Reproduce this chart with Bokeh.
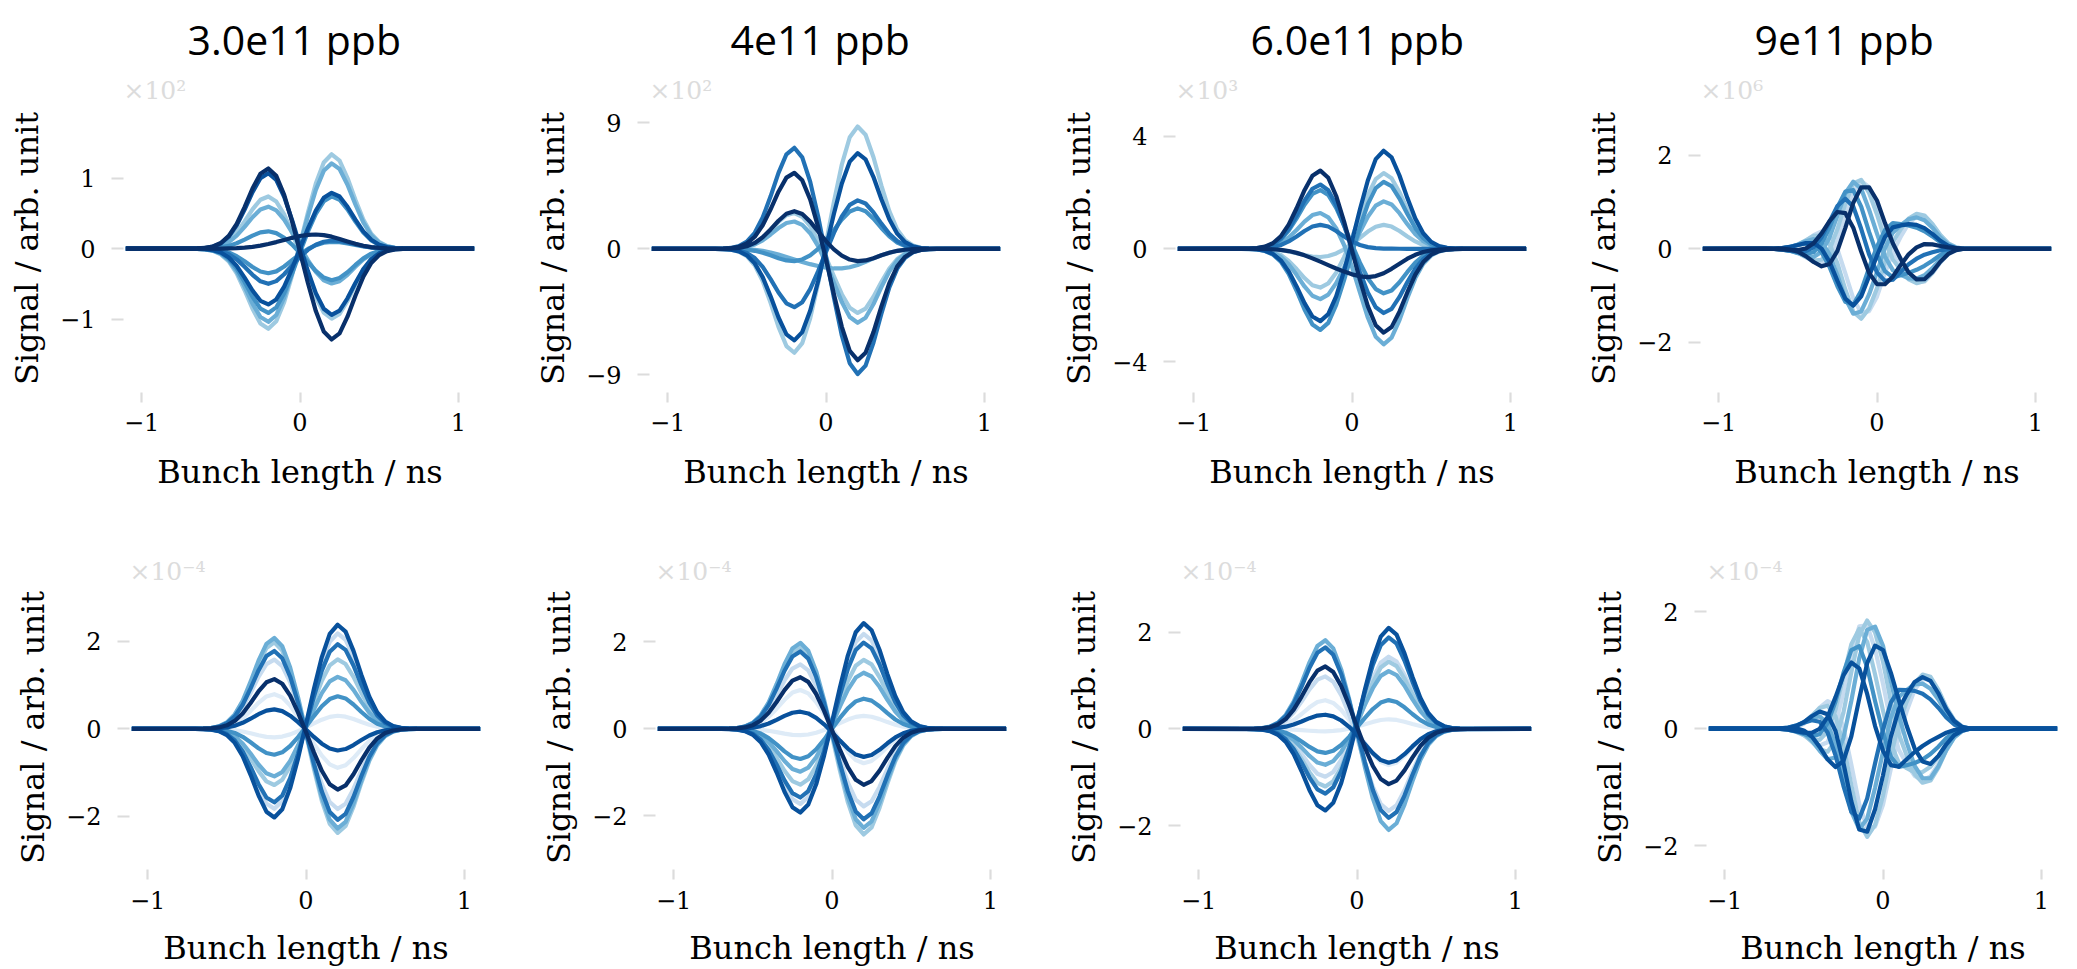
from bokeh.plotting import figure
from bokeh.models import Range1d, FixedTicker, Title, CustomJSTickFormatter
from bokeh.layouts import column, row
from bokeh.embed import file_html
from bokeh.resources import INLINE

# ---------------- shared x grid (bunch length / ns) ----------------
X = [-1.1, -0.7, -0.65, -0.6, -0.55, -0.5, -0.45, -0.4, -0.35, -0.3, -0.25, -0.2,
     -0.15, -0.1, -0.05, 0.0, 0.05, 0.1, 0.15, 0.2, 0.25, 0.3, 0.35, 0.4, 0.45,
     0.5, 0.55, 0.6, 0.65, 0.7, 1.1]

# pulse profiles (normalised to 1 at their extremum)
BUMP_LEFT = [0, 0.001, 0.003, 0.009, 0.027, 0.070, 0.157, 0.306, 0.514, 0.744, 0.929, 1.0,
             0.929, 0.744, 0.514, 0.306, 0.157, 0.070, 0.027, 0.009, 0.003, 0.001, 0, 0, 0,
             0, 0, 0, 0, 0, 0]
BUMP_RIGHT = [0, 0, 0, 0, 0, 0, 0, 0, 0, 0.001, 0.003, 0.009, 0.027, 0.070, 0.157, 0.306,
              0.514, 0.744, 0.929, 1.0, 0.929, 0.744, 0.514, 0.306, 0.157, 0.070, 0.027,
              0.009, 0.003, 0.001, 0]
BUMP_WIDE = [0, 0, 0.001, 0.001, 0.004, 0.009, 0.021, 0.044, 0.085, 0.151, 0.249, 0.381,
             0.539, 0.707, 0.857, 0.962, 1.0, 0.962, 0.857, 0.707, 0.539, 0.381, 0.249,
             0.151, 0.085, 0.044, 0.021, 0.009, 0.004, 0.001, 0]
WAVE_P = [0, 0.001, 0.001, -0.003, -0.019, -0.056, -0.120, -0.191, -0.213, -0.114, 0.148,
          0.523, 0.863, 1.000, 0.890, 0.620, 0.250, -0.050, -0.250, -0.420, -0.500, -0.480,
          -0.360, -0.200, -0.080, -0.020, 0, 0, 0, 0, 0]
WAVE_Q = [0, 0.002, 0.005, 0.013, 0.024, 0.028, 0.001, -0.090, -0.264, -0.488, -0.662,
          -0.659, -0.417, 0.0, 0.390, 0.600, 0.620, 0.500, 0.300, 0.120, 0.0, -0.060,
          -0.060, -0.040, -0.020, -0.010, 0, 0, 0, 0, 0]

# ---------------- texts ----------------
COLUMN_TITLES = ["3.0e11 ppb", "4e11 ppb", "6.0e11 ppb", "9e11 ppb"]
SCALE_TOP = ["\u00d710\u00b2", "\u00d710\u00b2", "\u00d710\u00b3", "\u00d710\u2076"]
SCALE_BOTTOM = ["\u00d710\u207b\u2074"] * 4
Y_TICK_TOP = [1, 9, 4, 2]
Y_TICK_BOTTOM = [2, 2, 2, 2]
X_TICKS = [-1, 0, 1]
X_LABEL = "Bunch length / ns"
Y_LABEL = "Signal / arb. unit"

# ---------------- curve amplitudes (head lobe, tail lobe, broad part) ----------------
A_COLORS = ['#9ecae1', '#9ecae1', '#6baed6', '#6baed6', '#4292c6', '#4292c6', '#4292c6',
            '#2171b5', '#08519c', '#08519c', '#08306b', '#08306b']
A_LEFT = [-1.15, 0.75, -1.05, 0.60, -0.92, 0.25, -0.35, -0.50, -0.80, 1.08, 1.15, 0.00]
A_RIGHT = [1.35, -1.00, 1.22, -0.50, 0.75, -0.45, 0.10, 0.12, 0.80, -0.95, -1.30, 0.05]
A_WIDE = [0, 0, 0, 0, 0, 0, 0, 0, 0, 0, 0, 0.17]

B_COLORS = ['#9ecae1', '#9ecae1', '#6baed6', '#6baed6', '#4292c6', '#2171b5', '#2171b5',
            '#08519c', '#08306b', '#08306b']
B_LEFT = [-7.5, 2.6, -0.3, 2.0, -0.9, -4.2, 7.3, -6.6, 5.5, 2.7]
B_RIGHT = [8.8, -4.6, -0.3, -5.3, 2.9, 3.5, -9.0, 6.9, -8.0, -0.9]
B_WIDE = [0, 0, -1.2, 0, 0, 0, 0, 0, 0, 0]

C_COLORS = ['#9ecae1', '#9ecae1', '#6baed6', '#6baed6', '#4292c6', '#4292c6', '#2171b5',
            '#2171b5', '#08519c', '#08306b', '#08306b']
C_LEFT = [-1.4, -0.3, -1.8, 1.3, -2.9, 2.1, 0.85, 2.3, -2.6, 2.8, -0.15]
C_RIGHT = [2.7, 0.85, 1.7, -3.4, 2.4, -1.6, 0.0, -2.3, 3.5, -3.0, -0.3]
C_WIDE = [0, 0, 0, 0, 0, 0, 0, 0, 0, 0, -0.8]

D_COLORS = ['#c6dbef', '#c6dbef', '#9ecae1', '#9ecae1', '#6baed6', '#6baed6', '#4292c6',
            '#4292c6', '#2171b5', '#08519c', '#08306b', '#08306b']
D_COS = [1.448, -1.369, 1.470, -1.494, 1.279, -1.340, 0.901, -0.900, 0.426, -1.017, -0.059, 1.311]
D_SIN = [0.072, -0.290, -0.298, 0.137, -0.784, 0.553, -1.136, 1.007, -1.281, 0.810, -1.199, 0.363]

E_COLORS = ['#deebf7', '#deebf7', '#c6dbef', '#c6dbef', '#9ecae1', '#9ecae1', '#6baed6',
            '#6baed6', '#4292c6', '#2171b5', '#2171b5', '#08519c', '#08519c', '#08306b']
E_LEFT = [0.8, -0.2, 1.6, -1.85, 2.0, -1.3, 2.1, -1.1, -0.6, 1.8, -1.7, -2.05, 0.45, 1.15]
E_RIGHT = [-0.9, 0.3, -1.85, 2.2, -2.4, 1.6, -2.3, 1.2, 0.75, -2.1, 1.95, 2.4, -0.5, -1.4]

F_COLORS = ['#deebf7', '#deebf7', '#c6dbef', '#c6dbef', '#9ecae1', '#9ecae1', '#6baed6',
            '#6baed6', '#4292c6', '#2171b5', '#2171b5', '#08519c', '#08519c', '#08306b']
F_LEFT = [0.9, -0.15, 1.5, -1.75, 1.9, -1.3, 2.0, -1.0, -0.7, 1.8, -1.6, -1.95, 0.4, 1.2]
F_RIGHT = [-0.8, 0.3, -1.8, 2.2, -2.45, 1.6, -2.3, 1.3, 0.7, -2.1, 2.0, 2.45, -0.65, -1.3]

G_COLORS = ['#deebf7', '#deebf7', '#c6dbef', '#c6dbef', '#9ecae1', '#6baed6', '#6baed6',
            '#4292c6', '#2171b5', '#2171b5', '#08519c', '#08519c', '#08306b']
G_LEFT = [0.6, -0.05, 1.1, -1.0, -1.2, 1.85, -0.75, -0.5, 1.7, -1.35, -1.7, 0.3, 1.3]
G_RIGHT = [-0.75, 0.2, -1.7, 1.5, 1.4, -2.1, 1.2, 0.6, -1.85, 1.9, 2.1, -0.7, -1.15]

H_COLORS = ['#c6dbef', '#c6dbef', '#9ecae1', '#9ecae1', '#9ecae1', '#6baed6', '#6baed6',
            '#4292c6', '#2171b5', '#08519c', '#08519c', '#08519c']
H_COS = [1.767, -1.700, 1.850, 1.486, -1.850, 1.691, -1.542, 1.056, -1.195, 0.595, 1.120, -1.763]
H_SIN = [-0.547, -0.416, 0.000, -1.016, 0.000, 0.617, 0.928, -1.202, 1.210, -1.245, 1.086, 0.490]


def bump_curves(lefts, rights, wides=None):
    if wides is None:
        wides = [0] * len(lefts)
    out = []
    for l, r, w in zip(lefts, rights, wides):
        out.append([l * a + r * b + w * c for a, b, c in zip(BUMP_LEFT, BUMP_RIGHT, BUMP_WIDE)])
    return out


def wave_curves(coss, sins):
    return [[c * p + s * q for p, q in zip(WAVE_P, WAVE_Q)] for c, s in zip(coss, sins)]


TOP_CURVES = [
    (A_COLORS, bump_curves(A_LEFT, A_RIGHT, A_WIDE)),
    (B_COLORS, bump_curves(B_LEFT, B_RIGHT, B_WIDE)),
    (C_COLORS, bump_curves(C_LEFT, C_RIGHT, C_WIDE)),
    (D_COLORS, wave_curves(D_COS, D_SIN)),
]
BOTTOM_CURVES = [
    (E_COLORS, bump_curves(E_LEFT, E_RIGHT)),
    (F_COLORS, bump_curves(F_LEFT, F_RIGHT)),
    (G_COLORS, bump_curves(G_LEFT, G_RIGHT)),
    (H_COLORS, wave_curves(H_COS, H_SIN)),
]

# ---------------- layout (pixels) ----------------
FRAME_W = 353
TOP_H, TOP_BT, TOP_BB = 495, 104, 103
BOT_H, BOT_BT, BOT_BB = 474, 90, 98
TOP_W = [525, 525, 525, 502]
TOP_BL = [123, 124, 125, 125]
BOT_W = [530, 525, 525, 497]
BOT_BL = [129, 125, 125, 126]
TOP_YR = [(-2.043, 2.047), (-10.26, 10.31), (-5.10, 5.12), (-3.07, 3.08)]
BOT_YR = [(-3.22, 3.28), (-3.24, 3.30), (-2.90, 2.96), (-2.41, 2.45)]
TITLE_OFFSET = [64, 81, 75, 54]

SERIF = "DejaVu Serif"
TICK_GRAY = "#dcdcdc"
MINUS_FMT = "return tick < 0 ? '\\u2212' + Math.abs(tick) : tick.toString();"


def make_panel(w, h, bl, bt, bb, yr, ytick, scale_text, colors, curves,
               title=None, toff=0, xstand=10, xlabstand=16):
    p = figure(width=w, height=h, x_range=Range1d(-1.115, 1.115), y_range=Range1d(*yr),
               output_backend="svg", toolbar_location=None, title=None,
               min_border_left=bl, min_border_right=w - bl - FRAME_W,
               min_border_top=bt, min_border_bottom=bb)
    p.outline_line_color = None
    p.grid.visible = False
    p.background_fill_color = "white"
    p.border_fill_color = "white"
    for ax in (p.xaxis[0], p.yaxis[0]):
        ax.axis_line_color = None
        ax.major_tick_line_color = TICK_GRAY
        ax.major_tick_line_width = 2.2
        ax.major_tick_in = 0
        ax.minor_tick_line_color = None
        ax.major_label_text_font = SERIF
        ax.major_label_text_font_size = "24px"
        ax.major_label_text_color = "black"
        ax.axis_label_text_font = SERIF
        ax.axis_label_text_font_size = "32px"
        ax.axis_label_text_font_style = "normal"
        ax.axis_label_text_color = "black"
        ax.formatter = CustomJSTickFormatter(code=MINUS_FMT)
    xa, ya = p.xaxis[0], p.yaxis[0]
    xa.ticker = FixedTicker(ticks=X_TICKS)
    xa.major_tick_out = 10
    xa.major_label_standoff = xstand
    xa.axis_label_standoff = xlabstand
    xa.axis_label = X_LABEL
    ya.ticker = FixedTicker(ticks=[-ytick, 0, ytick])
    ya.major_tick_out = 12
    ya.major_label_standoff = 16
    ya.axis_label_standoff = 11
    ya.axis_label = Y_LABEL

    for c, y in zip(colors, curves):
        p.line(X, y, line_color=c, line_width=4.2, line_join="round")

    p.add_layout(Title(text=scale_text, align="left", offset=0, standoff=0,
                       text_font=SERIF, text_font_size="25px", text_font_style="normal",
                       text_color=TICK_GRAY), "above")
    if title is not None:
        p.add_layout(Title(text=title, align="left", offset=toff, standoff=14,
                           text_font="Open Sans", text_font_size="41px",
                           text_font_style="normal", text_color="black"), "above")
    return p


top = []
for i in range(4):
    cols, curves = TOP_CURVES[i]
    top.append(make_panel(TOP_W[i], TOP_H, TOP_BL[i], TOP_BT, TOP_BB, TOP_YR[i], Y_TICK_TOP[i],
                          SCALE_TOP[i], cols, curves, COLUMN_TITLES[i], TITLE_OFFSET[i],
                          xstand=10, xlabstand=19))
bottom = []
for i in range(4):
    cols, curves = BOTTOM_CURVES[i]
    bottom.append(make_panel(BOT_W[i], BOT_H, BOT_BL[i], BOT_BT, BOT_BB, BOT_YR[i],
                             Y_TICK_BOTTOM[i], SCALE_BOTTOM[i], cols, curves,
                             xstand=11, xlabstand=17))

layout = column(row(*top, spacing=0), row(*bottom, spacing=0), spacing=0)

with open("out.html", "w") as f:
    f.write(file_html(layout, INLINE))
